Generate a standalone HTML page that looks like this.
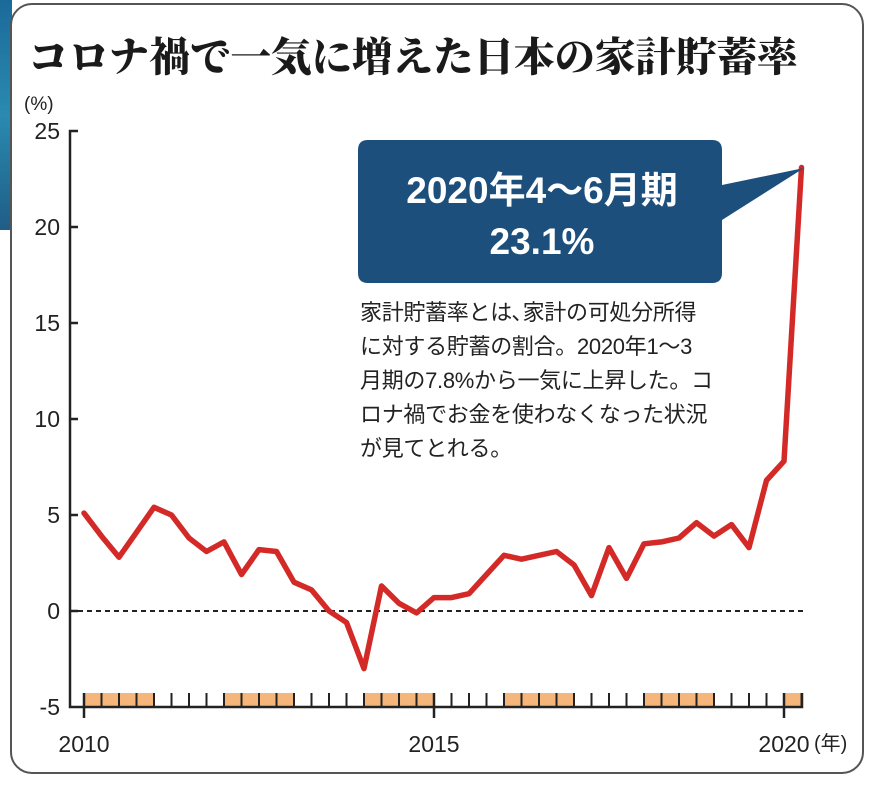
<!DOCTYPE html>
<html><head><meta charset="utf-8"><style>
body{margin:0;width:875px;height:785px;background:#fff;overflow:hidden;position:relative;font-family:"Liberation Sans","Noto Sans CJK JP",sans-serif;}
.card{position:absolute;left:10px;top:3px;width:850px;height:767px;border:2px solid #555;border-radius:22px;background:#fff;}
.title{position:absolute;left:28px;top:24px;font-family:"Noto Serif CJK JP","Noto Serif CJK SC",serif;font-weight:900;font-size:40.5px;color:#1a1a1a;white-space:nowrap;}
.note{position:absolute;left:360px;top:296px;font-size:22px;line-height:34px;color:#222;width:380px;white-space:nowrap;letter-spacing:-0.3px;}
</style></head><body>
<div style="position:absolute;left:0;top:0;width:12px;height:230px;background:linear-gradient(#1b6a9a,#2a8ab0,#1f5d86);"></div>
<div class="card"></div>
<div class="title">コロナ禍で一気に増えた日本の家計貯蓄率</div>
<svg width="875" height="785" style="position:absolute;left:0;top:0">
<g font-family="Liberation Sans, Noto Sans CJK JP, sans-serif" font-size="23" fill="#222">
<text x="24" y="110" font-size="19">(%)</text>
<text x="60" y="139" text-anchor="end">25</text>
<text x="60" y="235" text-anchor="end">20</text>
<text x="60" y="331" text-anchor="end">15</text>
<text x="60" y="427" text-anchor="end">10</text>
<text x="60" y="523" text-anchor="end">5</text>
<text x="60" y="619" text-anchor="end">0</text>
<text x="60" y="715" text-anchor="end">-5</text>
<text x="84" y="752" text-anchor="middle">2010</text>
<text x="434" y="752" text-anchor="middle">2015</text>
<text x="784" y="752" text-anchor="middle">2020</text>
<text x="814" y="750" font-size="20">(年)</text>
</g>
<g fill="#f5b67c">
<rect x="84" y="693" width="70" height="14"/><rect x="224" y="693" width="70" height="14"/>
<rect x="364" y="693" width="70" height="14"/><rect x="504" y="693" width="70" height="14"/>
<rect x="644" y="693" width="70" height="14"/><rect x="784" y="693" width="18" height="14"/>
</g>
<g stroke="#222" stroke-width="2.5" fill="none">
<polyline points="78,131 70,131 70,707 802,707 802,693"/>
<line x1="70" y1="227" x2="78" y2="227"/><line x1="70" y1="323" x2="78" y2="323"/>
<line x1="70" y1="419" x2="78" y2="419"/><line x1="70" y1="515" x2="78" y2="515"/>
<line x1="70" y1="611" x2="78" y2="611"/>
<line x1="84" y1="693" x2="84" y2="718"/><line x1="434" y1="693" x2="434" y2="718"/><line x1="784" y1="693" x2="784" y2="718"/>
</g>
<g id="ticks" stroke="#222" stroke-width="2"></g>
<line x1="78" y1="611" x2="805" y2="611" stroke="#222" stroke-width="2" stroke-dasharray="5,4"/>
<polyline id="ln" fill="none" stroke="#d42a27" stroke-width="5.5" stroke-linejoin="round" stroke-linecap="round" points=""/>
<path d="M368,140 H712 Q722,140 722,150 V185 L804,168 L722,220 V273 Q722,283 712,283 H368 Q358,283 358,273 V150 Q358,140 368,140Z" fill="#1d4f7c"/>
<g fill="#fff" font-weight="bold" font-size="37" text-anchor="middle" font-family="Liberation Sans, Noto Sans CJK JP, sans-serif">
<text x="542" y="203">2020年4～6月期</text>
<text x="542" y="254">23.1%</text>
</g>
</svg>
<div class="note">家計貯蓄率とは､家計の可処分所得<br>に対する貯蓄の割合。2020年1～3<br>月期の7.8%から一気に上昇した。コ<br>ロナ禍でお金を使わなくなった状況<br>が見てとれる。</div>
<script>
var d=[5.1,3.9,2.8,4.1,5.4,5.0,3.8,3.1,3.6,1.9,3.2,3.1,1.5,1.1,0.0,-0.6,-3.0,1.3,0.4,-0.1,0.7,0.7,0.9,1.9,2.9,2.7,2.9,3.1,2.4,0.8,3.3,1.7,3.5,3.6,3.8,4.6,3.9,4.5,3.3,6.8,7.8,23.1];
var p=d.map(function(v,i){return (84+i*17.5).toFixed(1)+","+(611-v*19.2).toFixed(1)}).join(" ");
document.getElementById("ln").setAttribute("points",p);
var g=document.getElementById("ticks"),s="";
for(var i=1;i<=41;i++){var x=84+i*17.5;s+='<line x1="'+x+'" y1="693" x2="'+x+'" y2="707"/>';}
g.innerHTML=s;
</script>
</body></html>
